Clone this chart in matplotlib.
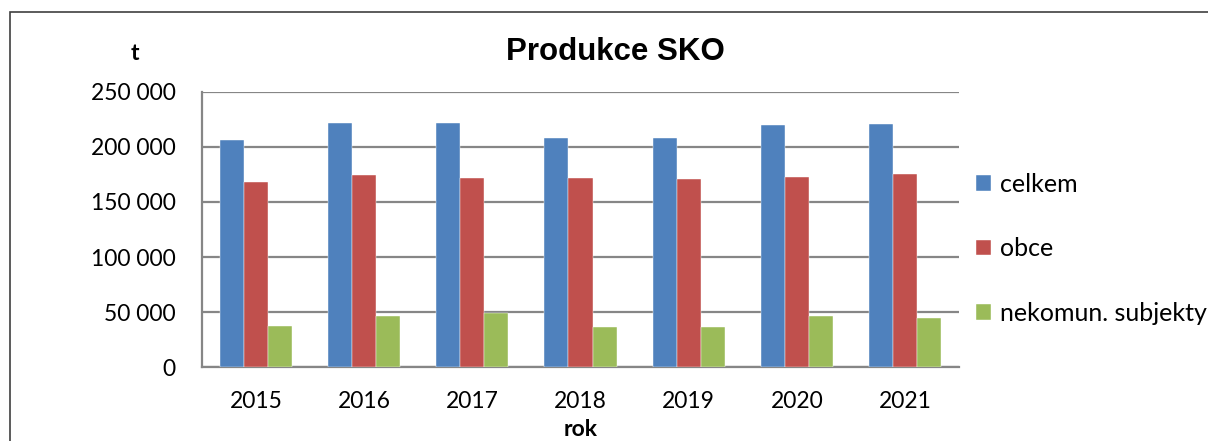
import matplotlib
matplotlib.use("Agg")
import matplotlib.pyplot as plt
import numpy as np
from matplotlib.patches import Rectangle

years = ["2015", "2016", "2017", "2018", "2019", "2020", "2021"]
celkem = [206000, 221300, 221600, 208000, 207700, 219500, 220700]
obce = [168100, 174400, 171700, 171400, 170800, 172600, 175100]
nekomun = [37500, 46500, 49300, 36300, 36300, 46500, 44400]
series_names = ["celkem", "obce", "nekomun. subjekty"]
colors = ["#4F81BD", "#C0504D", "#9BBB59"]
yticks = [0, 50000, 100000, 150000, 200000, 250000]
ytick_labels = ["0", "50 000", "100 000", "150 000", "200 000", "250 000"]

W, H = 1208, 441
fig = plt.figure(figsize=(W / 100, H / 100), dpi=100)
fig.patch.set_facecolor("white")

# outer chart border
fig.patches.append(Rectangle((10 / W, -0.1), 1.2, (H - 12) / H + 0.1,
                             transform=fig.transFigure, fill=False,
                             edgecolor="#404040", linewidth=1.2))

ax = fig.add_axes([202 / W, (H - 367.3) / H, (959 - 202) / W, 275.6 / H])
x = np.arange(len(years))
bw = 0.222
for i, (vals, name, c) in enumerate(zip([celkem, obce, nekomun], series_names, colors)):
    ax.bar(x + (i - 1) * bw, vals, width=bw, color=c, label=name,
           edgecolor="white", linewidth=0.3, zorder=3)

ax.set_xlim(-0.5, len(years) - 0.5)
ax.set_ylim(0, 250000)
ax.set_yticks(yticks)
ax.set_yticklabels(ytick_labels)
ax.set_xticks(x)
ax.set_xticklabels(years)
ax.grid(axis="y", color="#868686", linewidth=1.6, zorder=0)
ax.tick_params(axis="both", length=0, labelsize=16.5, colors="black")
ax.tick_params(axis="y", pad=19)
ax.tick_params(axis="x", pad=17)
for lab in ax.get_xticklabels() + ax.get_yticklabels():
    lab.set_fontfamily("Lato")
for s in ["top", "right"]:
    ax.spines[s].set_visible(False)
for s in ["left", "bottom"]:
    ax.spines[s].set_color("#868686")
    ax.spines[s].set_linewidth(1.6)

fig.text(615 / W, 1 - 52 / H, "Produkce SKO", ha="center", va="center",
         fontsize=22.5, fontweight="bold", family="Liberation Sans")
fig.text(135 / W, 1 - 54 / H, "t", ha="center", va="center",
         fontsize=16.5, fontweight="bold", family="Lato")
fig.text(581 / W, 1 - 429 / H, "rok", ha="center", va="center",
         fontsize=16.5, fontweight="bold", family="Lato")

leg = fig.legend(loc="upper left", bbox_to_anchor=(976 / W, 1 - 173 / H),
                 frameon=False, prop={"family": "Lato", "size": 18},
                 handlelength=0.6, handleheight=0.6, handletextpad=0.35,
                 labelspacing=1.65, borderaxespad=0, borderpad=0)

fig.savefig("out.png", dpi=100)
